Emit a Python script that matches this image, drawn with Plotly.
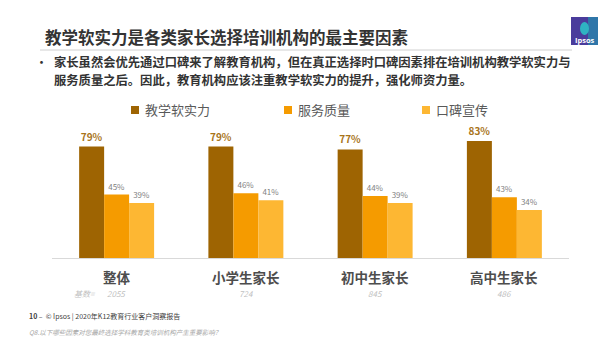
import plotly.graph_objects as go

W, H = 615, 353

categories = ["整体", "小学生家长", "初中生家长", "高中生家长"]
base_counts = ["2055", "724", "845", "486"]
series_names = ["教学软实力", "服务质量", "口碑宣传"]
teaching = [79, 79, 77, 83]
service = [45, 46, 44, 43]
word_of_mouth = [39, 41, 39, 34]
series_values = [teaching, service, word_of_mouth]
colors = ["#9E6402", "#F59B00", "#FDB733"]

title = "教学软实力是各类家长选择培训机构的最主要因素"
bullet_1 = "家长虽然会优先通过口碑来了解教育机构，但在真正选择时口碑因素排在培训机构教学软实力与"
bullet_2 = "服务质量之后。因此，教育机构应该注重教学软实力的提升，强化师资力量。"
footer_1 = "<b>10</b> –  © Ipsos | 2020年K12教育行业客户洞察报告"
footer_2 = "Q8.以下哪些因素对您最终选择学科教育类培训机构产生重要影响？"
base_label = "基数="

FONT = "Noto Sans CJK SC"


def px(x):
    return x / W


def py(y):
    return (H - y) / H


fig = go.Figure()
for i, (name, vals) in enumerate(zip(series_names, series_values)):
    if i == 0:
        tf = dict(size=10, color="#A8741A", family=FONT)
        texts = [f"<b>{v}%</b>" for v in vals]
    else:
        tf = dict(size=8, color="#7F7F7F", family=FONT)
        texts = [f"{v}%" for v in vals]
    fig.add_trace(go.Bar(
        x=categories, y=vals, name=name, marker=dict(color=colors[i], line=dict(width=0)),
        text=texts, textposition="outside", textfont=tf, cliponaxis=False,
        showlegend=False,
    ))

annotations = []
shapes = []

# title & bullets
annotations.append(dict(text=f"<b>{title}</b>", x=px(43), y=py(37), xref="paper", yref="paper",
                        xanchor="left", yanchor="middle", showarrow=False,
                        font=dict(size=16.5, color="#333333", family=FONT)))
annotations.append(dict(text="·", x=px(41), y=py(61.5), xref="paper", yref="paper",
                        xanchor="center", yanchor="middle", showarrow=False,
                        font=dict(size=13, color="#333333", family=FONT)))
for txt, yy in ((bullet_1, 61.5), (bullet_2, 80)):
    annotations.append(dict(text=f"<b>{txt}</b>", x=px(52), y=py(yy),
                            xref="paper", yref="paper", align="left",
                            xanchor="left", yanchor="middle", showarrow=False,
                            font=dict(size=12.3, color="#333333", family=FONT)))
shapes.append(dict(type="line", xref="paper", yref="paper", x0=px(40), x1=px(572),
                   y0=py(50), y1=py(50), line=dict(color="#D0D0D0", width=1)))

# legend (manual)
leg_x = [135, 288, 426]
for i, name in enumerate(series_names):
    cx = leg_x[i]
    shapes.append(dict(type="rect", xref="paper", yref="paper",
                       x0=px(cx - 4), x1=px(cx + 4), y0=py(114), y1=py(106),
                       fillcolor=colors[i], line=dict(width=0)))
    annotations.append(dict(text=name, x=px(cx + 8), y=py(110), xref="paper", yref="paper",
                            xanchor="left", yanchor="middle", showarrow=False,
                            font=dict(size=13, color="#595959", family=FONT)))

# category labels and base counts
for cat, n in zip(categories, base_counts):
    annotations.append(dict(text=f"<b>{cat}</b>", x=cat, y=py(277), xref="x", yref="paper",
                            xanchor="center", yanchor="middle", showarrow=False,
                            font=dict(size=13.5, color="#4D4D4D", family=FONT)))
    annotations.append(dict(text=f"<i>{n}</i>", x=cat, y=py(293), xref="x", yref="paper",
                            xanchor="center", yanchor="middle", showarrow=False,
                            font=dict(size=8, color="#BFBFBF", family=FONT)))
annotations.append(dict(text=f"<i>{base_label}</i>", x=px(72), y=py(293), xref="paper", yref="paper",
                        xanchor="left", yanchor="middle", showarrow=False,
                        font=dict(size=8, color="#BFBFBF", family=FONT)))

# footer
annotations.append(dict(text=footer_1, x=px(27), y=py(316), xref="paper", yref="paper",
                        xanchor="left", yanchor="middle", showarrow=False,
                        font=dict(size=7, color="#404040", family=FONT)))
annotations.append(dict(text=f"<i>{footer_2}</i>", x=px(27), y=py(332), xref="paper", yref="paper",
                        xanchor="left", yanchor="middle", showarrow=False,
                        font=dict(size=6.5, color="#A6A6A6", family=FONT)))

# logo
shapes.append(dict(type="rect", xref="paper", yref="paper", x0=px(571), x1=px(598),
                   y0=py(45), y1=py(17), fillcolor="#4A3C9C", line=dict(width=0)))
shapes.append(dict(type="rect", xref="paper", yref="paper", x0=px(588), x1=px(598),
                   y0=py(45), y1=py(17), fillcolor="#1AA5B5", opacity=0.55, line=dict(width=0)))
shapes.append(dict(type="circle", xref="paper", yref="paper", x0=px(580), x1=px(589),
                   y0=py(35), y1=py(22), fillcolor="#2FB3C2", line=dict(width=0)))
annotations.append(dict(text="<b>Ipsos</b>", x=px(584.5), y=py(40), xref="paper", yref="paper",
                        xanchor="center", yanchor="middle", showarrow=False,
                        font=dict(size=7.5, color="white", family="Open Sans")))

fig.update_layout(
    width=W, height=H,
    margin=dict(l=0, r=0, t=0, b=0),
    paper_bgcolor="white", plot_bgcolor="white",
    barmode="group", bargap=0.42, bargroupgap=0,
    annotations=annotations, shapes=shapes,
    font=dict(family=FONT),
    xaxis=dict(domain=[px(52), px(569)], showticklabels=False, showline=True,
               linecolor="#D9D9D9", linewidth=1, showgrid=False, zeroline=False, fixedrange=True),
    yaxis=dict(domain=[py(258), py(117)], range=[0, 100], showticklabels=False,
               showgrid=False, zeroline=False, showline=False, fixedrange=True),
    showlegend=False,
)

fig.write_html("out.html")
